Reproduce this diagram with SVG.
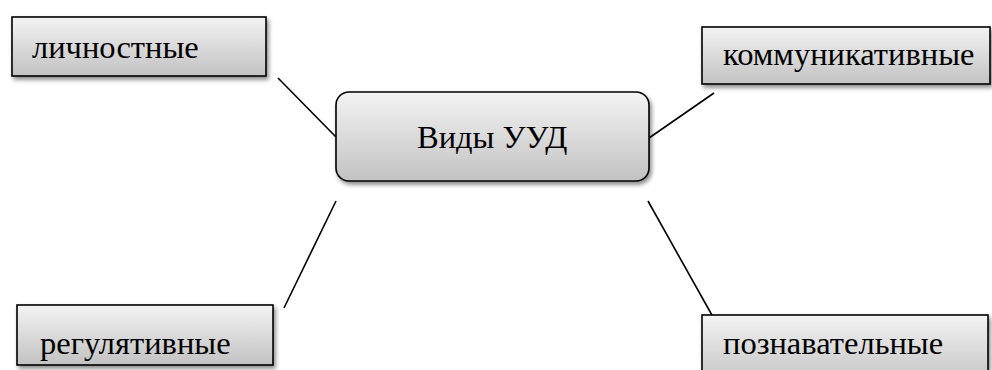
<svg xmlns="http://www.w3.org/2000/svg" width="992" height="370" viewBox="0 0 992 370">
  <defs>
    <linearGradient id="boxFill" x1="0" y1="0" x2="0" y2="1">
      <stop offset="0" stop-color="#f3f3f3"/>
      <stop offset="1" stop-color="#c2c2c2"/>
    </linearGradient>
    <filter id="shadow" x="-10%" y="-20%" width="125%" height="150%">
      <feDropShadow dx="2" dy="3" stdDeviation="2" flood-color="#000" flood-opacity="0.45"/>
    </filter>
    <style>
      .box { fill: url(#boxFill); stroke: #000; stroke-width: 1.6; filter: url(#shadow); }
      .label { font-family: "Liberation Serif", "Times New Roman", serif; font-size: 32.5px; fill: #000; }
      .link { stroke: #000; stroke-width: 1.6; fill: none; }
    </style>
  </defs>
  <rect width="992" height="370" fill="#fff"/>

  <g id="connectors">
    <line class="link" x1="278" y1="78" x2="336" y2="137"/>
    <line class="link" x1="649" y1="138" x2="714" y2="93"/>
    <line class="link" x1="336" y1="201" x2="284" y2="308"/>
    <line class="link" x1="648" y1="201" x2="713" y2="317"/>
  </g>

  <g id="center">
    <rect class="box" x="336" y="92" width="313" height="89" rx="13" ry="13"/>
    <text class="label" x="417" y="148">Виды УУД</text>
  </g>

  <g id="personal">
    <rect class="box" x="12" y="17" width="254" height="59"/>
    <text class="label" x="32" y="58">личностные</text>
  </g>

  <g id="communicative">
    <rect class="box" x="702" y="27" width="288" height="57"/>
    <text class="label" x="723" y="65">коммуникативные</text>
  </g>

  <g id="regulatory">
    <rect class="box" x="17" y="305" width="256" height="60"/>
    <text class="label" x="40" y="354">регулятивные</text>
  </g>

  <g id="cognitive">
    <rect class="box" x="702" y="315" width="286" height="70"/>
    <text class="label" x="723" y="354">познавательные</text>
  </g>
</svg>
